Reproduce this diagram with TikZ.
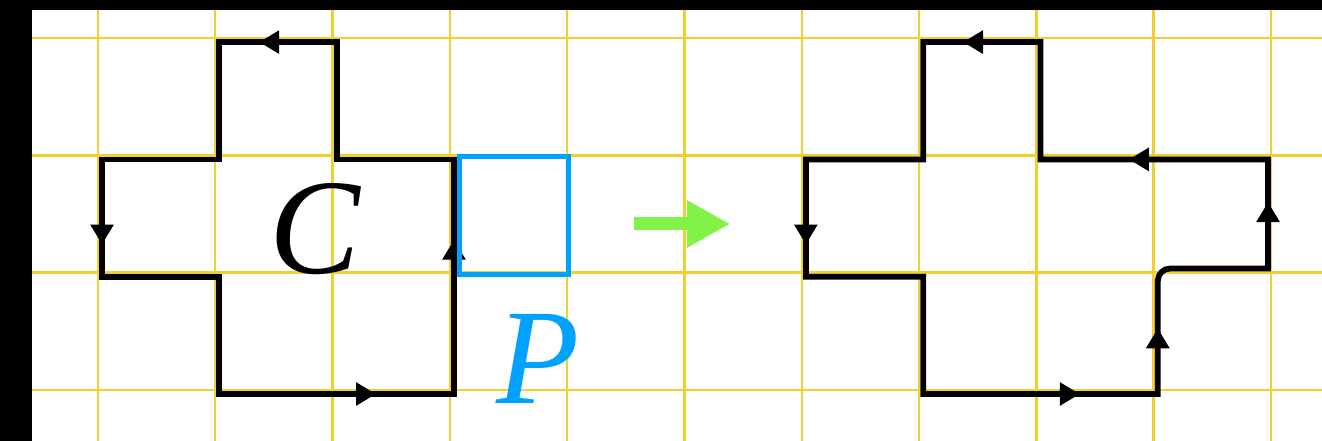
\documentclass[tikz,border=0pt]{standalone}
\usepackage{fontspec}
\usepackage{tikz}
\usetikzlibrary{arrows.meta,decorations.markings}
\newfontfamily\labelfont{Liberation Serif}
\definecolor{gridyellow}{RGB}{240,208,48}
\definecolor{pblue}{RGB}{0,162,255}
\definecolor{flowgreen}{RGB}{130,242,72}

\begin{document}
\begin{tikzpicture}[
  gridline/.style={draw=gridyellow,line width=0.6pt},
  curve/.style={draw=black,line width=1.4pt,shift={(0.035,-0.035)},postaction={decorate}},
  ctip/.tip={Triangle[length=1.7mm,width=1.9mm]},
  lbl/.style={font=\labelfont\itshape\fontsize{33}{33}\selectfont,inner sep=0pt,anchor=base},
  patch/.style={draw=pblue,line width=1.2pt},
  bigarr/.style={draw=flowgreen,line width=1.1mm,-{Triangle[length=3.7mm,width=3.8mm]}}
]
\useasboundingbox (-0.835,-0.435) rectangle (10.435,3.324);
\fill[black] (-0.835,-0.435) rectangle (10.435,3.324);
\fill[white] (-0.563,-0.435) rectangle (10.435,3.239);
\draw[gridline,step=1] (-0.563,-0.435) grid (10.435,3.239);

\draw[curve,decoration={markings,
    mark=at position 0.66cm with {\arrow{ctip}},
    mark=at position 3.725cm with {\arrow{ctip}},
    mark=at position 7.335cm with {\arrow{ctip}},
    mark=at position 9.315cm with {\arrow{ctip}}}]
  (2,3) -- (1,3) -- (1,2) -- (0,2) -- (0,1) -- (1,1) -- (1,0) -- (3,0) -- (3,2) -- (2,2) -- cycle;
\draw[patch] (3.08,0.98) rectangle (4.01,1.99);
\node[lbl] (C) at (1.85,0.99) {C};
\node[lbl,text=pblue] (P) at (3.75,-0.12) {P};

\coordinate (from) at (4.57,1.415);
\coordinate (to) at (5.39,1.415);
\draw[bigarr] (from) -- (to);

\draw[curve,decoration={markings,
    mark=at position 0.66cm with {\arrow{ctip}},
    mark=at position 3.725cm with {\arrow{ctip}},
    mark=at position 7.335cm with {\arrow{ctip}},
    mark=at position 8.56cm with {\arrow{ctip}},
    mark=at position 10.53cm with {\arrow{ctip}},
    mark=at position 12.08cm with {\arrow{ctip}}}]
  (8,3) -- (7,3) -- (7,2) -- (6,2) -- (6,1) -- (7,1) -- (7,0) -- (9,0) [rounded corners=3pt] -- (9,1.07) [sharp corners] -- (9.94,1.07) -- (9.94,2) -- (8,2) -- cycle;
\end{tikzpicture}
\end{document}
